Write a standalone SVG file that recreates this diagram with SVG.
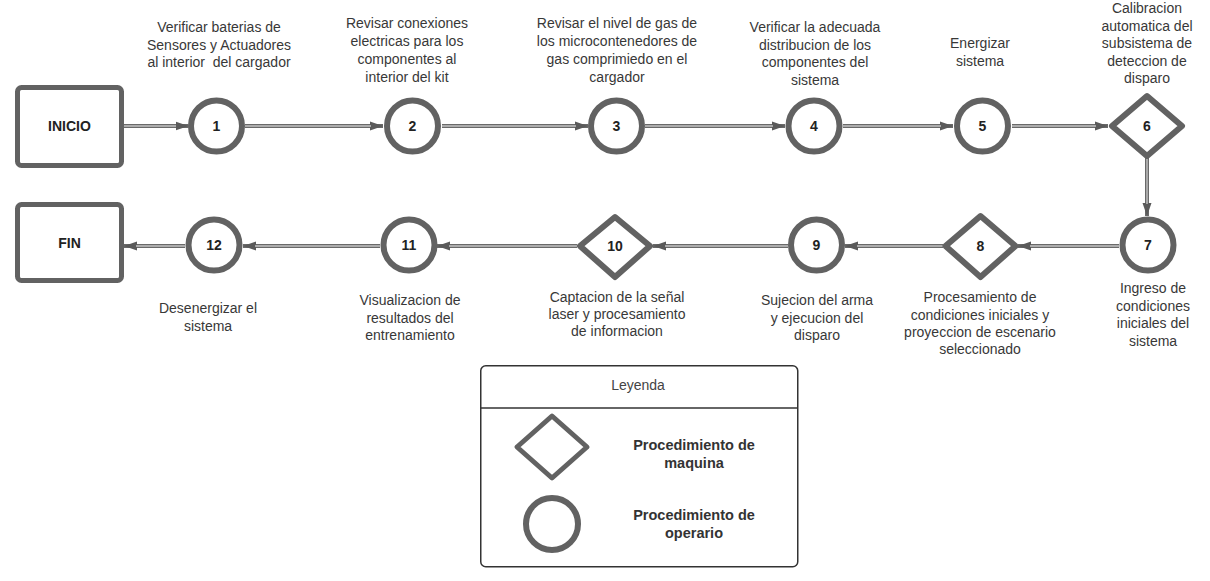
<svg xmlns="http://www.w3.org/2000/svg" width="1210" height="581" viewBox="0 0 1210 581">
<defs>
<marker id="ah" markerUnits="userSpaceOnUse" markerWidth="14" markerHeight="12" viewBox="0 0 14 12" refX="13" refY="6" orient="auto">
<path d="M0,1.5 L13,6 L0,10.5 Z" fill="#5a5a5a"/>
</marker>
<style>
.box{fill:#fff;stroke:#626262;stroke-width:5}
.circ{fill:#fff;stroke:#626262;stroke-width:6}
.dia{fill:#fff;stroke:#626262;stroke-width:6;stroke-linejoin:round}
.ln{fill:none;stroke:#6a6a6a;stroke-width:4}
.li{fill:none;stroke:#c4c4c4;stroke-width:1.4}
.lbl{font-family:"Liberation Sans",Arial,sans-serif;font-size:14px;fill:#383838;text-anchor:middle}
.num{font-family:"Liberation Sans",Arial,sans-serif;font-size:14px;font-weight:bold;fill:#222;text-anchor:middle}
.leg{font-family:"Liberation Sans",Arial,sans-serif;font-size:14.5px;font-weight:bold;fill:#333;text-anchor:middle}
</style>
</defs>
<rect width="1210" height="581" fill="#fff"/>

<g id="connectors">
<path class="ln" d="M124,126 H188.5" marker-end="url(#ah)"/><path class="li" d="M124,126 H176"/>
<path class="ln" d="M245,126 H383" marker-end="url(#ah)"/><path class="li" d="M245,126 H371"/>
<path class="ln" d="M442,126 H588" marker-end="url(#ah)"/><path class="li" d="M442,126 H576"/>
<path class="ln" d="M645,126 H785" marker-end="url(#ah)"/><path class="li" d="M645,126 H773"/>
<path class="ln" d="M843,126 H953" marker-end="url(#ah)"/><path class="li" d="M843,126 H941"/>
<path class="ln" d="M1012,126 H1108" marker-end="url(#ah)"/><path class="li" d="M1012,126 H1096"/>
<path class="ln" d="M1147,157 V216" marker-end="url(#ah)"/><path class="li" d="M1147,157 V204"/>
<path class="ln" d="M1119,246 H1018" marker-end="url(#ah)"/><path class="li" d="M1119,246 H1030"/>
<path class="ln" d="M943,246 H845" marker-end="url(#ah)"/><path class="li" d="M943,246 H857"/>
<path class="ln" d="M788,246 H653" marker-end="url(#ah)"/><path class="li" d="M788,246 H665"/>
<path class="ln" d="M577,246 H437" marker-end="url(#ah)"/><path class="li" d="M577,246 H449"/>
<path class="ln" d="M380,246 H243" marker-end="url(#ah)"/><path class="li" d="M380,246 H255"/>
<path class="ln" d="M185,246 H124" marker-end="url(#ah)"/><path class="li" d="M185,246 H136"/>
</g>

<g id="inicio">
<rect class="box" x="17.5" y="87.5" width="104" height="78" rx="4"/>
<text class="num" x="69.5" y="131">INICIO</text>
</g>
<g id="fin">
<rect class="box" x="17.5" y="204.5" width="104" height="76" rx="4"/>
<text class="num" x="69.5" y="248">FIN</text>
</g>

<g id="n1">
<circle class="circ" cx="216.5" cy="126" r="25.5"/>
<text class="num" x="216.5" y="131">1</text>
<text class="lbl" x="219"><tspan x="219" y="32">Verificar baterias de</tspan><tspan x="219" y="49.5">Sensores y Actuadores</tspan><tspan x="219" y="67" xml:space="preserve">al interior  del cargador</tspan></text>
</g>
<g id="n2">
<circle class="circ" cx="412.5" cy="126" r="25.5"/>
<text class="num" x="412.5" y="131">2</text>
<text class="lbl"><tspan x="407" y="28">Revisar conexiones</tspan><tspan x="407" y="46">electricas para los</tspan><tspan x="407" y="64">componentes al</tspan><tspan x="407" y="82">interior del kit</tspan></text>
</g>
<g id="n3">
<circle class="circ" cx="616.5" cy="126" r="25.5"/>
<text class="num" x="616.5" y="131">3</text>
<text class="lbl"><tspan x="617" y="28">Revisar el nivel de gas de</tspan><tspan x="617" y="46">los microcontenedores de</tspan><tspan x="617" y="64">gas comprimiedo en el</tspan><tspan x="617" y="82">cargador</tspan></text>
</g>
<g id="n4">
<circle class="circ" cx="814" cy="126" r="25.5"/>
<text class="num" x="814" y="131">4</text>
<text class="lbl"><tspan x="815" y="32">Verificar la adecuada</tspan><tspan x="815" y="49.5">distribucion de los</tspan><tspan x="815" y="67">componentes del</tspan><tspan x="815" y="84.5">sistema</tspan></text>
</g>
<g id="n5">
<circle class="circ" cx="982.5" cy="126" r="25.5"/>
<text class="num" x="982.5" y="131">5</text>
<text class="lbl"><tspan x="980" y="48">Energizar</tspan><tspan x="980" y="66">sistema</tspan></text>
</g>
<g id="n6">
<path class="dia" d="M1147,96 L1182,126 L1147,156 L1112,126 Z"/>
<text class="num" x="1147" y="131">6</text>
<text class="lbl"><tspan x="1147" y="13">Calibracion</tspan><tspan x="1147" y="30.5">automatica del</tspan><tspan x="1147" y="48">subsistema de</tspan><tspan x="1147" y="65.5">deteccion de</tspan><tspan x="1147" y="83">disparo</tspan></text>
</g>
<g id="n7">
<circle class="circ" cx="1148" cy="245" r="25.5"/>
<text class="num" x="1148" y="250">7</text>
<text class="lbl"><tspan x="1153" y="293">Ingreso de</tspan><tspan x="1153" y="310.5">condiciones</tspan><tspan x="1153" y="328">iniciales del</tspan><tspan x="1153" y="345.5">sistema</tspan></text>
</g>
<g id="n8">
<path class="dia" d="M980.5,216 L1015.5,246 L980.5,277 L945.5,246 Z"/>
<text class="num" x="980.5" y="251">8</text>
<text class="lbl"><tspan x="980" y="302">Procesamiento de</tspan><tspan x="980" y="319.5">condiciones iniciales y</tspan><tspan x="980" y="337">proyeccion de escenario</tspan><tspan x="980" y="354">seleccionado</tspan></text>
</g>
<g id="n9">
<circle class="circ" cx="816.5" cy="245" r="25.5"/>
<text class="num" x="816.5" y="250">9</text>
<text class="lbl"><tspan x="817" y="305">Sujecion del arma</tspan><tspan x="817" y="322.5">y ejecucion del</tspan><tspan x="817" y="340">disparo</tspan></text>
</g>
<g id="n10">
<path class="dia" d="M615,217 L650,246 L615,277 L580,246 Z"/>
<text class="num" x="615" y="251">10</text>
<text class="lbl"><tspan x="617" y="302">Captacion de la señal</tspan><tspan x="617" y="319">laser y procesamiento</tspan><tspan x="617" y="336">de informacion</tspan></text>
</g>
<g id="n11">
<circle class="circ" cx="409" cy="245" r="25.5"/>
<text class="num" x="409" y="250">11</text>
<text class="lbl"><tspan x="410" y="305">Visualizacion de</tspan><tspan x="410" y="322.5">resultados del</tspan><tspan x="410" y="340">entrenamiento</tspan></text>
</g>
<g id="n12">
<circle class="circ" cx="214" cy="245" r="25.5"/>
<text class="num" x="214" y="250">12</text>
<text class="lbl"><tspan x="208" y="313">Desenergizar el</tspan><tspan x="208" y="330.5">sistema</tspan></text>
</g>

<g id="legend">
<rect x="480.75" y="365.75" width="317" height="201" rx="5" fill="#fff" stroke="#333" stroke-width="1.5"/>
<line x1="480.75" y1="408" x2="797.75" y2="408" stroke="#333" stroke-width="1.5"/>
<text class="lbl" x="638" y="390" style="fill:#444">Leyenda</text>
<path d="M552,416 L587,447 L552,478 L517,447 Z" fill="#fff" stroke="#626262" stroke-width="5" stroke-linejoin="round"/>
<circle cx="552" cy="524" r="26" fill="#fff" stroke="#626262" stroke-width="6"/>
<text class="leg"><tspan x="694" y="450">Procedimiento de</tspan><tspan x="694" y="467.5">maquina</tspan></text>
<text class="leg"><tspan x="694" y="520">Procedimiento de</tspan><tspan x="694" y="538">operario</tspan></text>
</g>
</svg>
